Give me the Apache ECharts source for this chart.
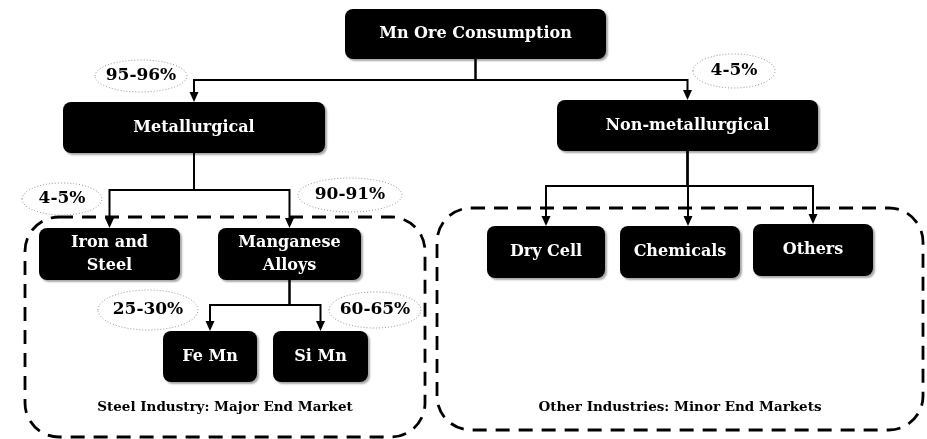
<!DOCTYPE html>
<html>
<head>
<meta charset="utf-8">
<script src="https://cdn.jsdelivr.net/npm/echarts@6/dist/echarts.min.js"></script>
<style>
  html, body { margin: 0; padding: 0; background: #fff; }
  #chart { width: 927px; height: 439px; }
</style>
</head>
<body>
<div id="chart"></div>
<script>
// flowchart content
const nodeNames = [
  'Mn Ore Consumption',
  'Metallurgical',
  'Non-metallurgical',
  'Iron and\nSteel',
  'Manganese\nAlloys',
  'Fe Mn',
  'Si Mn',
  'Dry Cell',
  'Chemicals',
  'Others'
]
// [from, to, share]
const links = [
  [0, 1, '95-96%'],
  [0, 2, '4-5%'],
  [1, 3, '4-5%'],
  [1, 4, '90-91%'],
  [4, 5, '25-30%'],
  [4, 6, '60-65%'],
  [2, 7, ''],
  [2, 8, ''],
  [2, 9, '']
]
const groupNames = ['Steel Industry: Major End Market', 'Other Industries: Minor End Markets']

// layout (page units, y down)
const nodeBox = [
  [345, 9, 606, 59],
  [63, 102, 325, 153],
  [557, 100, 818, 151],
  [39, 228, 180, 280],
  [218, 228, 361, 280],
  [163, 331, 257, 382],
  [273, 331, 368, 382],
  [487, 226, 605, 278],
  [620, 226, 740, 278],
  [753, 224, 873, 276]
]
const portX = { 8: 688 }
const busY = { 0: 80, 1: 190, 2: 186, 4: 305 }
const labelSpot = [
  [141, 76, 46, 16],
  [734, 71, 41, 17],
  [62, 199, 40, 16],
  [350, 195, 52, 17],
  [148, 310, 50, 20],
  [375, 310, 46, 18]
]
const groupBox = [
  [25, 217, 425, 437, 407],
  [437, 208, 923, 430, 407]
]

const FONT = '"DejaVu Serif", "Liberation Serif", serif'

function cx (i) {
  const b = nodeBox[i]
  return portX[i] != null ? portX[i] : (b[0] + b[2]) / 2
}

function renderGroup (params, api) {
  const i = api.value(0)
  const g = groupBox[i]
  const p0 = api.coord([g[0], g[1]])
  const p1 = api.coord([g[2], g[3]])
  const pl = api.coord([(g[0] + g[2]) / 2, g[4]])
  return {
    type: 'group',
    children: [
      {
        type: 'rect',
        shape: { x: p0[0], y: p0[1], width: p1[0] - p0[0], height: p1[1] - p0[1], r: 34 },
        style: { fill: 'none', stroke: '#000', lineWidth: 2.8, lineDash: [14, 9] }
      },
      {
        type: 'text',
        x: pl[0],
        y: pl[1],
        style: {
          text: groupNames[i], fill: '#000', font: 'bold 13.5px ' + FONT,
          align: 'center', verticalAlign: 'middle'
        }
      }
    ]
  }
}

function renderLink (params, api) {
  const k = api.value(0)
  const [from, to, share] = links[k]
  const fb = nodeBox[from]
  const tb = nodeBox[to]
  const x0 = cx(from)
  const x1 = cx(to)
  const by = busY[from]
  const a = api.coord([x0, fb[3]])
  const b = api.coord([x0, by])
  const c = api.coord([x1, by])
  const d = api.coord([x1, tb[1]])
  const children = [
    {
      type: 'polyline',
      shape: { points: [a, b, c, [d[0], d[1] - 8]] },
      style: { fill: 'none', stroke: '#000', lineWidth: 2 }
    },
    {
      type: 'polygon',
      shape: { points: [[d[0] - 4.5, d[1] - 10], [d[0] + 4.5, d[1] - 10], [d[0], d[1]]] },
      style: { fill: '#000' }
    }
  ]
  if (share) {
    const s = labelSpot[k]
    const p = api.coord([s[0], s[1]])
    children.push({
      type: 'ellipse',
      shape: { cx: p[0], cy: p[1], rx: s[2], ry: s[3] },
      style: { fill: '#fff', stroke: '#999', lineWidth: 1, lineDash: [1, 2] }
    })
    children.push({
      type: 'text',
      x: p[0],
      y: p[1],
      style: {
        text: share, fill: '#000', font: 'bold 17px ' + FONT,
        align: 'center', verticalAlign: 'middle'
      }
    })
  }
  return { type: 'group', children }
}

function renderNode (params, api) {
  const i = api.value(0)
  const b = nodeBox[i]
  const p0 = api.coord([b[0], b[1]])
  const p1 = api.coord([b[2], b[3]])
  return {
    type: 'group',
    children: [
      {
        type: 'rect',
        shape: { x: p0[0], y: p0[1], width: p1[0] - p0[0], height: p1[1] - p0[1], r: 8 },
        style: {
          fill: '#000', shadowColor: 'rgba(0,0,0,0.35)',
          shadowOffsetX: 2, shadowOffsetY: 2, shadowBlur: 2
        }
      },
      {
        type: 'text',
        x: (p0[0] + p1[0]) / 2,
        y: (p0[1] + p1[1]) / 2,
        style: {
          text: nodeNames[i], fill: '#fff', font: 'bold 16px ' + FONT,
          align: 'center', verticalAlign: 'middle', lineHeight: 23
        }
      }
    ]
  }
}

const chart = echarts.init(document.getElementById('chart'), null, { renderer: 'canvas' })
chart.setOption({
  backgroundColor: '#fff',
  animation: false,
  grid: { left: 0, right: 0, top: 0, bottom: 0 },
  xAxis: { type: 'value', min: 0, max: 927, show: false },
  yAxis: { type: 'value', min: 0, max: 439, inverse: true, show: false },
  series: [
    {
      type: 'custom',
      renderItem: renderGroup,
      data: groupNames.map((n, i) => [i]),
      silent: true,
      z: 1
    },
    {
      type: 'custom',
      renderItem: renderLink,
      data: links.map((l, i) => [i]),
      silent: true,
      z: 2
    },
    {
      type: 'custom',
      renderItem: renderNode,
      data: nodeNames.map((n, i) => [i]),
      silent: true,
      z: 3
    }
  ]
})
</script>
</body>
</html>
